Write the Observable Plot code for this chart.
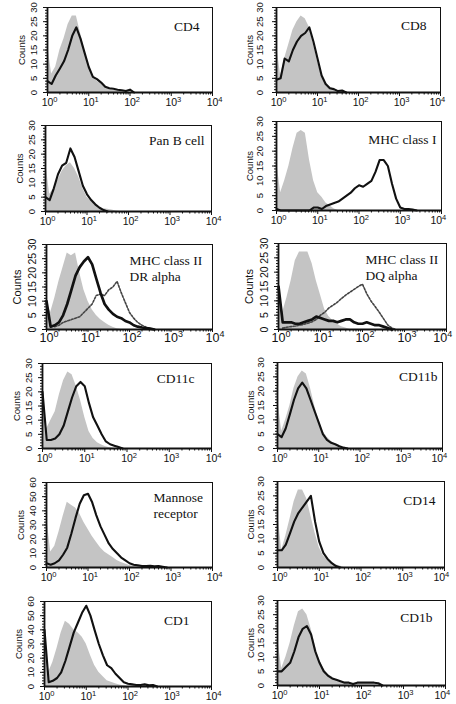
<!DOCTYPE html>
<html><head><meta charset="utf-8">
<script src="https://cdn.jsdelivr.net/npm/d3@7"></script>
<script src="https://cdn.jsdelivr.net/npm/@observablehq/plot@0.6"></script>
<style>
html,body{margin:0;padding:0;background:#fff;overflow:hidden}
#fig{position:relative;width:456px;height:704px;overflow:hidden;background:#fff}
#fig svg{position:absolute;overflow:visible}
</style>
</head><body><div id="fig"></div>
<script>
// fluorescence channel grid (0.1 decade steps)
const channel = [1, 1.26, 1.58, 2, 2.51, 3.16, 3.98, 5.01, 6.31, 7.94, 10, 12.6, 15.8, 20, 25.1, 31.6, 39.8, 50.1, 63.1, 79.4, 100, 126, 158, 200, 251, 316, 398, 501, 631, 794, 1000, 1259, 1585, 1995, 2512];
const xDecades = [1, 10, 100, 1000, 10000];
const xTickLabels = ["10⁰", "10¹", "10²", "10³", "10⁴"];
const yTicks30 = [0, 5, 10, 15, 20, 25, 30];
const yTicks60 = [0, 10, 20, 30, 40, 50, 60];
const panelLabels = ["CD4", "CD8", "Pan B cell", "MHC class I", "MHC class II\nDR alpha", "MHC class II\nDQ alpha", "CD11c", "CD11b", "Mannose\nreceptor", "CD14", "CD1", "CD1b"];

// grey = control histogram, black = antibody histogram, dotted = second antibody
const grayCD4 = [17, 6.5, 9, 15, 19, 24, 27, 27, 21, 15, 10, 6, 4, 3, 2, 1.2, 0.8, 0.5, 0.3, 0];
const blackCD4 = [4, 3, 6, 8.5, 11, 15, 20, 23, 19, 14, 9, 5.5, 4.7, 3.5, 2, 1.5, 1.3, 1, 0.8, 0.5, 1, 0];
const grayCD8 = [17, 6, 12, 17, 22, 25, 27, 26, 23, 17, 11, 6, 3.5, 2, 1.2, 0.7, 0.5, 0.3, 0];
const blackCD8 = [4.5, 5, 12, 11, 15, 18, 20, 21, 23, 18, 12, 6, 3, 1.5, 1.2, 0.5, 0.7, 0];
const grayPanB = [17.5, 6, 8, 11, 14, 16, 17, 15, 12, 8, 5, 3.5, 2.5, 1.5, 1, 0.8, 0.5, 0.2, 0];
const blackPanB = [5, 4, 8, 13, 16, 17, 22, 19, 14, 9, 6, 4, 2.5, 1.3, 0.5, 0];
const grayMHC1 = [17, 6, 10, 15, 21, 26, 27, 26, 17, 10, 6, 4.5, 2.5, 1.5, 0.5, 0];
const blackMHC1 = [0.5, 0, 0, 0, 0, 0, 0, 0, 0, 1, 1, 0.5, 1.5, 2, 2.5, 3, 4, 5, 6, 7.5, 8.5, 8, 9, 10, 13, 17, 17, 15, 9, 4, 1, 0.5, 0.5, 0.3, 0];
const grayDR = [10, 6, 11, 17, 22, 27, 26, 27, 20, 14, 10, 7, 5, 3.5, 2.5, 1.5, 0.8, 0.3, 0];
const blackDR = [10, 1, 1.5, 2.5, 5, 9, 14, 19, 22, 24, 25.5, 23, 18, 13, 9, 7, 5.5, 4.5, 4, 3, 2.5, 1.5, 1, 0.7, 0.5, 0.3, 0];
const dottedDR = [null, null, 1, 1.5, 2.5, 3, 3.5, 4, 4.5, 6, 7.5, 9, 12, 12.5, 12, 14, 15, 17, 13, 9.5, 6, 4, 2.5, 1.5, 0.8, 0.3, 0];
const grayDQ = [15, 6, 11, 17, 24, 27, 27, 27, 23, 17, 12, 7, 4.5, 3, 1.8, 1, 0.5, 0];
const blackDQ = [15, 2.5, 2.5, 2.5, 2, 2, 2.5, 3, 3.5, 4.5, 4, 3.5, 3, 3, 2.5, 3, 3.5, 3.5, 2.5, 2, 2, 2.5, 2, 1.5, 1.5, 1, 0.5, 0];
const dottedDQ = [null, 0.5, 0.8, 1, 1.2, 1.5, 1.8, 2.2, 2.7, 3.5, 5, 6, 7.5, 8.5, 9.5, 10.8, 12, 13, 14, 15, 15.8, 12.5, 10, 8, 6, 3.8, 1.6, 0.5, 0];
const grayCD11c = [20, 7, 10, 13, 19, 24, 27, 26, 22, 17, 11, 6, 3.5, 2, 1.2, 0.6, 0.3, 0];
const blackCD11c = [20, 3, 3, 3.5, 5, 8, 13, 18, 22, 23.5, 22, 16, 11, 8, 5, 2.5, 1.5, 1, 0.5, 0];
const grayCD11b = [18, 6, 10, 15, 21, 25, 27, 26, 21, 15, 10, 6, 4, 2.5, 1.5, 0.8, 0.3, 0];
const blackCD11b = [5, 4, 7, 12, 17, 21, 23, 21, 17, 13, 9, 5, 3, 2, 1.5, 0.8, 0.3, 0];
const grayMannose = [37, 11, 15, 25, 36, 46, 44, 42, 38, 32, 27, 22, 18, 14, 11, 9, 7, 5, 3.5, 2.5, 1.5, 0.8, 0];
const blackMannose = [3, 2, 3, 5, 9, 14, 24, 35, 45, 51, 52, 46, 37, 29, 23, 17, 13, 10, 7, 5, 3, 2, 1.5, 1, 1, 1.2, 0.8, 1, 0.5, 0];
const grayCD14 = [20, 6, 11, 17, 23, 27, 27, 24, 18, 12, 7, 4, 2.5, 1.5, 1, 0.5, 0];
const blackCD14 = [6, 6, 8, 12, 16, 19, 21, 23, 25, 16, 9, 5, 3, 1.5, 0.5, 0];
const grayCD1 = [40, 10, 17, 27, 38, 46, 44, 40, 38, 35, 30, 22, 15, 10, 7, 4, 3, 2, 1, 0.5, 0];
const blackCD1 = [40, 3, 4, 6, 10, 18, 28, 38, 45, 52, 57, 50, 40, 30, 22, 15, 13, 9, 6, 3, 2, 1.5, 1, 1, 1.5, 0.8, 1, 0];
const grayCD1b = [17, 6, 10, 15, 21, 26, 27, 25, 20, 14, 9, 6, 4, 3, 2, 1.2, 0.6, 0.3, 0];
const blackCD1b = [5, 5, 6.5, 8, 12, 17, 20, 21, 18, 12, 8, 5, 3.5, 2.5, 2, 1.5, 1, 1, 0.5, 1, 1, 1, 1, 1, 0.8, 0];

const panels = [
  {gray: grayCD4, black: blackCD4, yTicks: yTicks30},
  {gray: grayCD8, black: blackCD8, yTicks: yTicks30},
  {gray: grayPanB, black: blackPanB, yTicks: yTicks30},
  {gray: grayMHC1, black: blackMHC1, yTicks: yTicks30},
  {gray: grayDR, black: blackDR, dotted: dottedDR, yTicks: yTicks30},
  {gray: grayDQ, black: blackDQ, dotted: dottedDQ, yTicks: yTicks30},
  {gray: grayCD11c, black: blackCD11c, yTicks: yTicks30},
  {gray: grayCD11b, black: blackCD11b, yTicks: yTicks30},
  {gray: grayMannose, black: blackMannose, yTicks: yTicks60},
  {gray: grayCD14, black: blackCD14, yTicks: yTicks30},
  {gray: grayCD1, black: blackCD1, yTicks: yTicks60},
  {gray: grayCD1b, black: blackCD1b, yTicks: yTicks30}
];

// layout: frame edges (page px), label placement
const layout = [
  {l: 47, r: 212, t: 7, b: 92, anchor: "top-right", dx: -13, dy: 12},
  {l: 276, r: 440, t: 7, b: 92, anchor: "top-right", dx: -14, dy: 11},
  {l: 45, r: 211, t: 125, b: 211, anchor: "top-right", dx: -7, dy: 8},
  {l: 276, r: 441, t: 121, b: 210, anchor: "top-right", dx: -5, dy: 11},
  {l: 46, r: 212, t: 244, b: 329, anchor: "top-left", dx: 83, dy: 9, big: true},
  {l: 278, r: 446, t: 243, b: 329, anchor: "top-left", dx: 87, dy: 9, big: true},
  {l: 42, r: 211, t: 363, b: 448, anchor: "top-right", dx: -17, dy: 8},
  {l: 277, r: 442, t: 362, b: 448, anchor: "top-right", dx: -5, dy: 7},
  {l: 46, r: 212, t: 482, b: 567, anchor: "top-left", dx: 107, dy: 8},
  {l: 277, r: 444, t: 481, b: 567, anchor: "top-right", dx: -9, dy: 12},
  {l: 44, r: 211, t: 601, b: 686, anchor: "top-right", dx: -22, dy: 12},
  {l: 277, r: 445, t: 600, b: 685, anchor: "top-right", dx: -13, dy: 10}
];

const minorX = [];
for (const dec of [1, 10, 100, 1000]) for (let k = 2; k <= 9; k++) minorX.push(k * dec);

const series = vals => vals.map((v, i) => ({x: channel[i], y: v}));
const narrow = "'Liberation Sans Narrow', 'Arial Narrow', 'Liberation Sans', sans-serif";
const sans = "'Liberation Sans', Arial, sans-serif";
const serif = "'Liberation Serif', 'Times New Roman', serif";
const supMap = {"⁰": "0", "¹": "1", "²": "2", "³": "3", "⁴": "4"};

const ML = 50, MR = 16, MT = 8, MB = 22;
const fig = document.getElementById("fig");

panels.forEach((p, i) => {
  const g = layout[i];
  const yMax = p.yTicks[p.yTicks.length - 1];
  const yMinor = d3.range(0, yMax + 0.001, yMax > 30 ? 2 : 1);
  const col2 = g.l > 228;
  const fsY = g.big ? 10.5 : 9.5;
  const fsX = g.big ? 12.5 : 10.5;
  const isLeft = g.anchor === "top-left";
  const svg = Plot.plot({
    width: g.r - g.l + ML + MR,
    height: g.b - g.t + MT + MB,
    marginLeft: ML, marginRight: MR, marginTop: MT, marginBottom: MB,
    style: {background: "transparent", overflow: "visible"},
    x: {type: "log", domain: [1, 10000], axis: null, label: null},
    y: {domain: [0, yMax], axis: null, label: null},
    marks: [
      Plot.areaY(series(p.gray), {x: "x", y: "y", fill: "#c4c4c4", curve: "linear"}),
      p.dotted ? Plot.line(series(p.dotted), {x: "x", y: "y", stroke: "#444", strokeWidth: 1.6, strokeDasharray: "2,1.6"}) : null,
      Plot.line(series(p.black), {x: "x", y: "y", stroke: "#111", strokeWidth: g.big ? 2.7 : 2.1}),
      Plot.frame({stroke: "#111", strokeWidth: 1}),
      Plot.ruleX([1], {stroke: "#111", strokeWidth: 1.8}),
      Plot.ruleY([0], {stroke: "#111", strokeWidth: 1.8}),
      Plot.axisX(minorX, {tickSize: 2.5, tickFormat: () => "", stroke: "#111"}),
      Plot.axisX(xDecades, {tickSize: g.big ? 3 : 4, tickPadding: g.big ? 0.5 : 2, stroke: "#111", fill: "#111",
        tickFormat: d => xTickLabels[xDecades.indexOf(d)], fontSize: fsX, fontFamily: sans}),
      Plot.axisY(yMinor, {tickSize: 2, tickFormat: () => "", stroke: "#111"}),
      Plot.axisY(p.yTicks, {tickSize: 4, tickFormat: () => "", stroke: "#111"}),
      Plot.text(p.yTicks, {y: d => d, text: d => String(d), frameAnchor: "left", dx: g.big ? -14 : (col2 ? -17 : -14),
        rotate: -90, textAnchor: "middle", lineAnchor: "middle", fontSize: fsY, fontFamily: narrow, fill: "#111"}),
      Plot.text(["Counts"], {frameAnchor: "left", dx: g.big ? -29 : (col2 ? -27 : -26), rotate: -90,
        textAnchor: "middle", lineAnchor: "middle", fontSize: g.big ? 11 : 9.5, fontFamily: narrow, fill: "#111"}),
      Plot.text([panelLabels[i]], {frameAnchor: g.anchor, dx: g.dx, dy: g.dy, textAnchor: isLeft ? "start" : "end",
        lineAnchor: "top", lineHeight: 1.18, fontSize: 13.5, fontFamily: serif, fill: "#111"})
    ]
  });
  // render the decade exponent as a true raised superscript
  svg.querySelectorAll("text").forEach(t => {
    const s = t.textContent;
    if (xTickLabels.includes(s)) {
      const exp = supMap[s.slice(2)];
      t.textContent = "10";
      const ts = document.createElementNS("http://www.w3.org/2000/svg", "tspan");
      ts.setAttribute("dy", "-0.5em");
      ts.setAttribute("font-size", "0.72em");
      ts.textContent = exp;
      t.appendChild(ts);
      // keep the last label of the right-hand column inside the page
      t.setAttribute("dx", (col2 && exp === "4") ? "-0.3em" : "0.2em");
    }
  });
  svg.style.left = (g.l - ML) + "px";
  svg.style.top = (g.t - MT) + "px";
  fig.appendChild(svg);
});
</script>
</body></html>
